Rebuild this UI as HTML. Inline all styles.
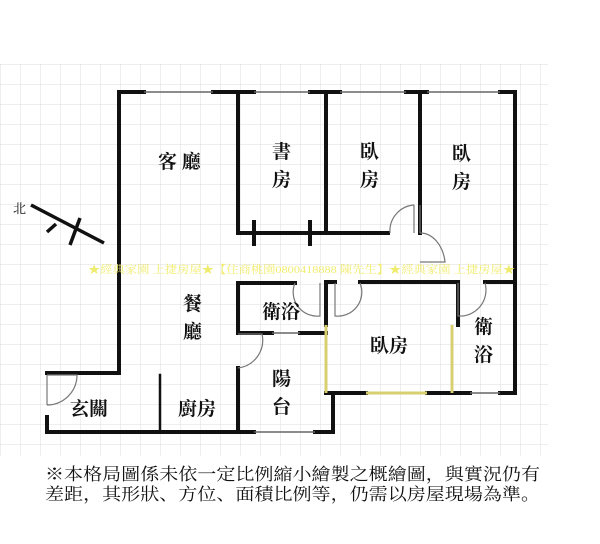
<!DOCTYPE html>
<html><head><meta charset="utf-8"><style>
html,body{margin:0;padding:0;background:#fff;}
svg{display:block}
text{font-family:"Liberation Serif","Noto Serif CJK SC","Noto Sans CJK TC",serif;fill:#111;}
</style></head><body>
<svg width="600" height="544" viewBox="0 0 600 544" xmlns="http://www.w3.org/2000/svg">
<defs>
<pattern id="g" width="20" height="20" patternUnits="userSpaceOnUse" x="0" y="64">
<path d="M0 0H20M0 0V20" stroke="#dcdcdc" stroke-width="1" fill="none"/>
</pattern>
</defs>
<rect x="0" y="64" width="548" height="392" fill="url(#g)"/>
<g fill="none" stroke="#111" stroke-width="4" stroke-linecap="square">
<path d="M119 373V92H144M213 92H254M310 92H340M406 92H427M500 92H515V393"/>
<path d="M119 373H47M47 417V432H254M315 432H333V393"/>
<path d="M160 375V432" stroke-width="2.5"/>
<path d="M238 368V432"/>
<path d="M295 283H238V333H272M300 333H326"/>
<path d="M335 282H326V325M360 282H458V325"/>
<path d="M326 393H366M427 393H452M452 393H470M500 393H515"/>
<path d="M485 282H515"/>
<path d="M238 92V233H388M326 92V233M420 92V233"/>
<path d="M254 222V244M310 222V244"/>
</g>
<g stroke="#111" stroke-width="4">
<path d="M452 325V393M326 325V393" stroke="#d8cf70" stroke-width="3"/>
<path d="M366 393H427" stroke="#d8cf70" stroke-width="3"/>
</g>
<g stroke="#666" stroke-width="1.5">
<path d="M144 92H213M254 92H310M340 92H406M427 92H500M254 432H315M272 333H300M470 393H500"/>
</g>
<g fill="none" stroke="#777" stroke-width="1.2">
<path d="M47 375H77A30 30 0 0 1 47 405"/>
<path d="M47 375V405"/>
<path d="M238 334H262A28 28 0 0 1 238 368"/>
<path d="M420 205V233M414 205V233M414 205A26 26 0 0 0 390 233"/>
<path d="M420 233A25 34 0 0 1 445 262H420"/>
<path d="M295 283A24 24 0 0 0 320 316V283"/>
<path d="M335 283V316A24 24 0 0 0 360 283"/>
<path d="M458 283V316A26 26 0 0 0 485 283"/>
</g>
<g stroke="#111" stroke-width="3.5" fill="none">
<path d="M31 205L104 243M80 218L70 245M56 224L47 232"/>
</g>
<text x="13" y="213" font-size="13" font-family="Liberation Sans,Noto Sans CJK TC,sans-serif">北</text>
<text x="88" y="273" font-size="11" textLength="427" lengthAdjust="spacingAndGlyphs" style="fill:#f0ec70" font-family="Liberation Sans,Noto Sans CJK TC,sans-serif">★經典家園 上捷房屋★【住商桃園0800418888 陳先生】★經典家園 上捷房屋★</text>
<g font-size="19" font-weight="bold">
<text x="158" y="168">客 廳</text>
<text x="272" y="158">書</text><text x="272" y="186">房</text>
<text x="360" y="158">臥</text><text x="360" y="186">房</text>
<text x="452" y="160">臥</text><text x="452" y="188">房</text>
<text x="183" y="310">餐</text><text x="183" y="338">廳</text>
<text x="262" y="318">衛浴</text>
<text x="370" y="352">臥房</text>
<text x="474" y="333">衛</text><text x="474" y="361">浴</text>
<text x="272" y="385">陽</text><text x="272" y="413">台</text>
<text x="70" y="415">玄關</text>
<text x="178" y="415">廚房</text>
</g>
<g font-size="17" font-family="Liberation Sans,Noto Sans CJK TC,sans-serif">
<text x="45" y="480" textLength="495" lengthAdjust="spacingAndGlyphs">※本格局圖係未依一定比例縮小繪製之概繪圖，與實況仍有</text>
<text x="45" y="500" textLength="495" lengthAdjust="spacingAndGlyphs">差距，其形狀、方位、面積比例等，仍需以房屋現場為準。</text>
</g>
</svg>
</body></html>
